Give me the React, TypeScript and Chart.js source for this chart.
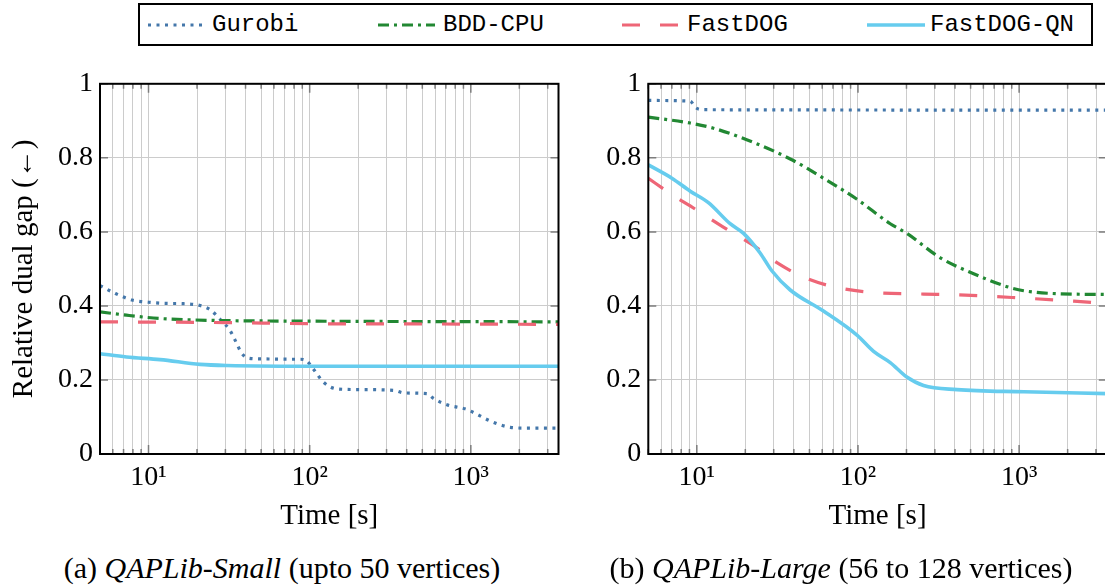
import React, { useEffect, useRef } from "react";
import { Chart, registerables } from "chart.js";

Chart.register(...registerables);

const SERIF = '"Liberation Serif", "DejaVu Serif", serif';
const MONO = '"Liberation Mono", "DejaVu Sans Mono", monospace';

// Series styling
const seriesNames = ["Gurobi", "BDD-CPU", "FastDOG", "FastDOG-QN"];
const seriesColors = ["#4477AA", "#228833", "#EE6677", "#66CCEE"];
const seriesDashes: number[][] = [[3, 5.5], [11, 5, 3, 5], [18, 20], []];
const seriesWidths = [3.2, 3.2, 3.2, 3.6];

// Axes
const timeMin = 5;
const timeMax = 3500;
const xTickValues = [
  5, 6, 7, 8, 9, 10, 20, 30, 40, 50, 60, 70, 80, 90, 100, 200, 300, 400, 500,
  600, 700, 800, 900, 1000, 2000, 3000,
];
const xMajorTicks = [10, 100, 1000];
const xMajorLabels = ["10¹", "10²", "10³"];
const yTickValues = [0, 0.2, 0.4, 0.6, 0.8, 1];
const yTickLabels = ["0", "0.2", "0.4", "0.6", "0.8", "1"];

// QAPLib-Small
const smallGurobiTime = [5, 6.2, 7.9, 10, 12.4, 16.5, 20.9, 24.1, 27.8, 32.1, 34.5, 37.9, 41.7, 49.3, 79.4, 87.4, 96.1, 105.6, 121.9, 147.5, 206, 332, 383, 535, 587, 711, 948, 1093, 1322, 1761, 2233, 3500];
const smallGurobiGap = [0.455, 0.434, 0.416, 0.41, 0.407, 0.406, 0.401, 0.39, 0.364, 0.333, 0.307, 0.272, 0.259, 0.257, 0.256, 0.256, 0.251, 0.229, 0.194, 0.176, 0.174, 0.172, 0.165, 0.163, 0.15, 0.133, 0.12, 0.107, 0.089, 0.072, 0.07, 0.07];
const smallBddTime = [5, 7.3, 11.8, 24.1, 79.4, 3500];
const smallBddGap = [0.384, 0.375, 0.366, 0.361, 0.359, 0.357];
const smallFastdogTime = [5, 30, 100, 1000, 3500];
const smallFastdogGap = [0.357, 0.355, 0.352, 0.351, 0.35];
const smallQnTime = [5, 7.3, 11.8, 20.9, 30.6, 124, 3500];
const smallQnGap = [0.271, 0.262, 0.255, 0.242, 0.239, 0.237, 0.237];

// QAPLib-Large
const largeGurobiTime = [5, 9.1, 9.8, 11, 3500];
const largeGurobiGap = [0.955, 0.953, 0.936, 0.93, 0.929];
const largeBddTime = [5, 9.1, 12.7, 20.4, 38, 61.1, 98.6, 158.6, 201, 324, 522, 841, 1068, 1722, 3500];
const largeBddGap = [0.91, 0.894, 0.88, 0.849, 0.797, 0.745, 0.688, 0.622, 0.596, 0.53, 0.487, 0.452, 0.441, 0.433, 0.431];
const largeFastdogTime = [5, 7.2, 9.1, 14.6, 23.6, 31.4, 48.2, 77.6, 125, 255, 412, 1068, 2183, 3500];
const largeFastdogGap = [0.745, 0.697, 0.67, 0.613, 0.557, 0.517, 0.474, 0.448, 0.436, 0.432, 0.43, 0.421, 0.413, 0.406];
const largeQnTime = [5, 7, 9.1, 11.8, 16.1, 19.5, 24.7, 29.2, 38, 61.1, 98.6, 125, 158.6, 201, 255, 412, 1068, 3500];
const largeQnGap = [0.781, 0.745, 0.71, 0.679, 0.622, 0.596, 0.543, 0.495, 0.443, 0.386, 0.321, 0.277, 0.247, 0.208, 0.185, 0.174, 0.168, 0.163];

const smallSeries = [
  [smallGurobiTime, smallGurobiGap],
  [smallBddTime, smallBddGap],
  [smallFastdogTime, smallFastdogGap],
  [smallQnTime, smallQnGap],
];
const largeSeries = [
  [largeGurobiTime, largeGurobiGap],
  [largeBddTime, largeBddGap],
  [largeFastdogTime, largeFastdogGap],
  [largeQnTime, largeQnGap],
];

// Inward tick marks on all four sides plus the black frame
const framePlugin = {
  id: "frame",
  beforeDatasetsDraw(chart: any) {
    const { ctx, chartArea: a, scales } = chart;
    ctx.save();
    ctx.strokeStyle = "#7d7d7d";
    ctx.lineWidth = 1.5;
    ctx.beginPath();
    for (const v of xTickValues) {
      const x = scales.x.getPixelForValue(v);
      const len = xMajorTicks.includes(v) ? 9 : 5;
      ctx.moveTo(x, a.bottom);
      ctx.lineTo(x, a.bottom - len);
      ctx.moveTo(x, a.top);
      ctx.lineTo(x, a.top + len);
    }
    for (const v of yTickValues) {
      const y = scales.y.getPixelForValue(v);
      ctx.moveTo(a.left, y);
      ctx.lineTo(a.left + 8, y);
      ctx.moveTo(a.right, y);
      ctx.lineTo(a.right - 8, y);
    }
    ctx.stroke();
    ctx.restore();
  },
  afterDraw(chart: any) {
    const { ctx, chartArea: a } = chart;
    ctx.save();
    ctx.strokeStyle = "#000";
    ctx.lineWidth = 2;
    ctx.strokeRect(a.left, a.top, a.right - a.left, a.bottom - a.top);
    ctx.restore();
  },
};

type PanelProps = {
  series: number[][][];
  left: number;
  yWidth: number;
  padRight: number;
  yTitle?: string;
};

const CANVAS_W = 580;
const CANVAS_H = 480;

function Panel({ series, left, yWidth, padRight, yTitle }: PanelProps) {
  const ref = useRef<HTMLCanvasElement | null>(null);

  useEffect(() => {
    if (!ref.current) return;
    const datasets = series.map(([times, gaps], i) => ({
      label: seriesNames[i],
      data: times.map((t, j) => ({ x: t, y: gaps[j] })),
      borderColor: seriesColors[i],
      backgroundColor: seriesColors[i],
      borderWidth: seriesWidths[i],
      borderDash: seriesDashes[i],
      borderCapStyle: "butt" as const,
      pointRadius: 0,
      fill: false,
      cubicInterpolationMode: "monotone" as const,
      order: series.length - i,
    }));

    const tickFont = { family: SERIF, size: 28 };
    const titleFont = { family: SERIF, size: 29 };
    const chart = new Chart(ref.current, {
      type: "line",
      data: { datasets },
      options: {
        responsive: false,
        animation: false,
        devicePixelRatio: 1,
        events: [],
        layout: { padding: { left: 0, right: padRight, top: 12, bottom: 0 } },
        plugins: {
          legend: { display: false },
          tooltip: { enabled: false },
          title: { display: false },
        },
        scales: {
          x: {
            type: "logarithmic",
            min: timeMin,
            max: timeMax,
            afterBuildTicks: (s: any) => {
              s.ticks = xTickValues.map((v) => ({ value: v }));
            },
            afterFit: (s: any) => {
              s.height = 86;
            },
            grid: { color: "#cccccc", lineWidth: 1, drawTicks: false },
            border: { display: false },
            ticks: {
              autoSkip: false,
              maxRotation: 0,
              padding: 7,
              color: "#000",
              font: tickFont,
              callback: (v: any) => {
                const k = xMajorTicks.indexOf(Number(v));
                return k >= 0 ? xMajorLabels[k] : "";
              },
            },
            title: {
              display: true,
              text: "Time [s]",
              color: "#000",
              font: titleFont,
              padding: { top: 0, bottom: 6 },
            },
          },
          y: {
            min: 0,
            max: 1,
            afterBuildTicks: (s: any) => {
              s.ticks = yTickValues.map((v) => ({ value: v }));
            },
            afterFit: (s: any) => {
              s.width = yWidth;
            },
            grid: { color: "#cccccc", lineWidth: 1, drawTicks: false },
            border: { display: false },
            ticks: {
              padding: 7,
              color: "#000",
              font: tickFont,
              callback: (_v: any, idx: number) => yTickLabels[idx],
            },
            title: {
              display: !!yTitle,
              text: yTitle || "",
              color: "#000",
              font: titleFont,
              padding: { top: 7, bottom: 0 },
            },
          },
        },
      },
      plugins: [framePlugin],
    });
    return () => chart.destroy();
  }, [series, yWidth, padRight, yTitle]);

  return (
    <canvas
      ref={ref}
      width={CANVAS_W}
      height={CANVAS_H}
      style={{
        position: "absolute",
        left,
        top: 60,
        width: CANVAS_W,
        height: CANVAS_H,
      }}
    />
  );
}

// Legend line samples and labels
const legendSampleX = [
  [148, 205],
  [378, 435],
  [622, 680],
  [867, 925],
];
const legendTextX = [212, 443, 687, 930];

function Legend() {
  return (
    <>
      <div
        style={{
          position: "absolute",
          left: 138,
          top: 3,
          width: 955,
          height: 43,
          border: "2px solid #000",
          boxSizing: "border-box",
        }}
      />
      <svg
        width={1105}
        height={50}
        style={{ position: "absolute", left: 0, top: 0 }}
      >
        {seriesNames.map((n, i) => (
          <line
            key={n}
            x1={legendSampleX[i][0]}
            x2={legendSampleX[i][1]}
            y1={25}
            y2={25}
            stroke={seriesColors[i]}
            strokeWidth={seriesWidths[i]}
            strokeDasharray={seriesDashes[i].length ? seriesDashes[i].join(" ") : undefined}
          />
        ))}
      </svg>
      {seriesNames.map((n, i) => (
        <span
          key={n}
          style={{
            position: "absolute",
            left: legendTextX[i],
            top: 3,
            height: 43,
            lineHeight: "43px",
            fontFamily: MONO,
            fontSize: 24,
            color: "#000",
            whiteSpace: "nowrap",
          }}
        >
          {n}
        </span>
      ))}
    </>
  );
}

function Caption({ center, tag, name, rest }: { center: number; tag: string; name: string; rest: string }) {
  return (
    <div
      style={{
        position: "absolute",
        left: center,
        top: 550,
        transform: "translateX(-50%)",
        fontFamily: SERIF,
        fontSize: 30,
        lineHeight: "36px",
        whiteSpace: "nowrap",
        color: "#000",
      }}
    >
      {tag} <i>{name}</i> {rest}
    </div>
  );
}

export default function App() {
  return (
    <div
      style={{
        position: "fixed",
        left: 0,
        top: 0,
        width: 1105,
        height: 587,
        overflow: "hidden",
        background: "#fff",
      }}
    >
      <Legend />
      <Panel
        series={smallSeries}
        left={0}
        yWidth={100}
        padRight={21.5}
        yTitle="Relative dual gap (←)"
      />
      <Panel series={largeSeries} left={560} yWidth={88.3} padRight={33.2} />
      <Caption center={282} tag="(a)" name="QAPLib-Small" rest="(upto 50 vertices)" />
      <Caption center={841} tag="(b)" name="QAPLib-Large" rest="(56 to 128 vertices)" />
    </div>
  );
}
